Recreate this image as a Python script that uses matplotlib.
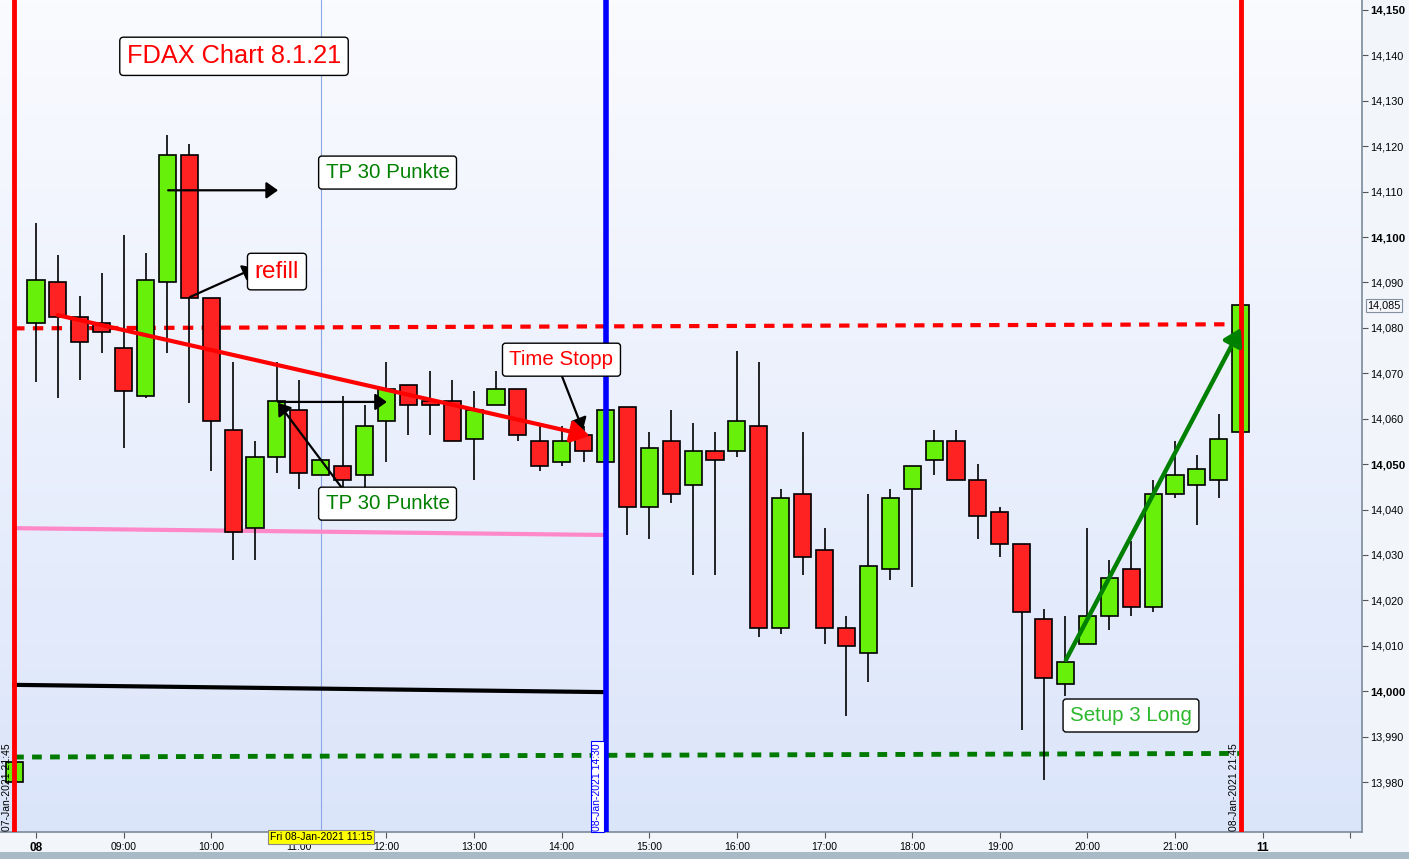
import numpy as np
import matplotlib
matplotlib.use("Agg")
import matplotlib.pyplot as plt
from matplotlib.colors import LinearSegmentedColormap

plt.rcParams['font.family'] = ['Liberation Sans', 'DejaVu Sans']

# 15 min bars, index 0 = 08-Jan-2021 08:00, index -1 = 07-Jan-2021 21:45
opens = [13980, 14081, 14090, 14082.5, 14081, 14075.5, 14065, 14090, 14118, 14086.5,
         14057.5, 14036, 14051.5, 14062, 14047.5, 14049.5, 14047.5, 14059.5, 14067.5, 14064,
         14064, 14055.5, 14063, 14066.5, 14055, 14050.5, 14056.5, 14050.5, 14062.5, 14040.5,
         14055, 14045.5, 14053, 14053, 14058.5, 14014, 14043.5, 14031, 14014, 14008.5,
         14027, 14044.5, 14051, 14055, 14046.5, 14039.5, 14032.5, 14016, 14001.5, 14010.5,
         14016.5, 14027, 14018.5, 14043.5, 14045.5, 14046.5, 14057]
highs = [13985, 14103, 14096, 14087, 14092, 14100.5, 14096.5, 14122.5, 14120.5, 14086.5,
         14072.5, 14055, 14072.5, 14068.5, 14051, 14065, 14063, 14072.5, 14067.5, 14070.5,
         14068.5, 14066, 14070.5, 14066.5, 14058.5, 14058.5, 14058.5, 14062, 14062.5, 14057,
         14062, 14059, 14057, 14075, 14072.5, 14044.5, 14057, 14036, 14016.5, 14043.5,
         14044.5, 14049.5, 14057.5, 14057.5, 14050, 14040.5, 14032.5, 14018, 14016.5, 14036,
         14029, 14033, 14046.5, 14055, 14052, 14061, 14085]
lows = [13979.5, 14068, 14064.5, 14068.5, 14074.5, 14053.5, 14064.5, 14074.5, 14063.5, 14048.5,
        14029, 14029, 14048, 14044.5, 14047.5, 14045, 14043, 14050.5, 14056.5, 14056.5,
        14055, 14046.5, 14063, 14055, 14048.5, 14049.5, 14050.5, 14050.5, 14034.5, 14033.5,
        14041.5, 14025.5, 14025.5, 14051.5, 14012, 14012.5, 14025.5, 14010.5, 13994.5, 14002,
        14024.5, 14023, 14047.5, 14046.5, 14033.5, 14029.5, 13991.5, 13980.5, 13999, 14010.5,
        14013.5, 14016.5, 14017.5, 14042.5, 14036.5, 14042.5, 14057]
closes = [13984.5, 14090.5, 14082.5, 14077, 14079, 14066, 14090.5, 14118, 14086.5, 14059.5,
          14035, 14051.5, 14064, 14048, 14051, 14046.5, 14058.5, 14066.5, 14063, 14063,
          14055, 14062, 14066.5, 14056.5, 14049.5, 14055, 14053, 14062, 14040.5, 14053.5,
          14043.5, 14053, 14051, 14059.5, 14014, 14042.5, 14029.5, 14014, 14010, 14027.5,
          14042.5, 14049.5, 14055, 14046.5, 14038.5, 14032.5, 14017.5, 14003, 14006.5, 14016.5,
          14025, 14018.5, 14043.5, 14047.5, 14049, 14055.5, 14085]
first_index = -1

tick_pos = [0, 4, 8, 12, 16, 20, 24, 28, 32, 36, 40, 44, 48, 52, 56]
tick_labels = ["08", "09:00", "10:00", "11:00", "12:00", "13:00", "14:00", "15:00",
               "16:00", "17:00", "18:00", "19:00", "20:00", "21:00", "11"]
price_ticks = list(range(13980, 14151, 10))

x = np.arange(first_index, first_index + len(opens))
o = np.array(opens); h = np.array(highs); l = np.array(lows); c = np.array(closes)
up = c >= o

fig = plt.figure(figsize=(14.09, 8.59), dpi=100, facecolor='#f2f5fa')
ax = fig.add_axes([0, 27 / 859, 1362 / 1409, 832 / 859])
xmin, xmax = -36 / 21.904, (1362 - 36) / 21.904
ymin, ymax = 13969.0, 14152.2
ax.set_xlim(xmin, xmax)
ax.set_ylim(ymin, ymax)

# background gradient
grad = np.linspace(0, 1, 256).reshape(-1, 1)
bg = LinearSegmentedColormap.from_list('bg', ['#dbe5fa', '#fafbff'])
ax.imshow(grad, extent=[xmin, xmax, ymin, ymax], origin='lower', aspect='auto',
          cmap=bg, zorder=0)

# crosshair line
ax.axvline(13, color='#8aa8e8', lw=0.8, zorder=1)

# horizontal lines
ax.plot([-1, 55], [14079.9, 14080.8], color='#ff0000', lw=3, ls=(0, (2.5, 2)), zorder=2)
ax.plot([-1, 55], [13985.5, 13986.3], color='#007a00', lw=3.5, ls=(0, (2, 1.7)), zorder=2)
ax.plot([-1, 26], [14035.9, 14034.4], color='#ff88c8', lw=3, zorder=2)
ax.plot([-1, 26], [14001.4, 13999.8], color='black', lw=3, zorder=2)

# candles
ax.vlines(x, l, h, color='black', lw=1.2, zorder=3)
ax.bar(x[up], (c - o)[up], bottom=o[up], width=0.78, color='#66f00a',
       edgecolor='black', lw=1.2, zorder=4)
ax.bar(x[~up], (o - c)[~up], bottom=c[~up], width=0.78, color='#ff2222',
       edgecolor='black', lw=1.2, zorder=4)

# vertical markers
ax.axvline(-1, color='#ff0000', lw=3.5, zorder=5)
ax.axvline(55, color='#ff0000', lw=3.5, zorder=5)
ax.axvline(26, color='#0000ff', lw=4, zorder=5)

# arrows
def arrow(x0, y0, x1, y1, color='black', lw=1.6, hw=0.5, hl=0.7):
    ax.annotate('', xy=(x1, y1), xytext=(x0, y0), zorder=6,
                arrowprops=dict(arrowstyle='-|>,head_width=%s,head_length=%s' % (hw, hl),
                                color=color, lw=lw, shrinkA=0, shrinkB=0))

arrow(6.03, 14110.3, 11.05, 14110.3)
arrow(7.03, 14086.8, 9.99, 14093.2)
arrow(11.05, 14063.7, 16.02, 14063.7)
arrow(14.1, 14043.9, 11.05, 14063.5)
arrow(24.01, 14069.4, 24.97, 14057.5)
arrow(1.0, 14082.8, 25.29, 14056.2, color='#ff0000', lw=3, hw=0.65, hl=1.1)
arrow(47.02, 14006.9, 55.01, 14080.0, color='#008000', lw=3.2, hw=0.6, hl=1.0)

# text boxes
box = dict(boxstyle='round,pad=0.34,rounding_size=0.15', fc='white', ec='black', lw=1)
ax.text(9.04, 14139.8, 'FDAX Chart 8.1.21', color='#ff0000', fontsize=18.3,
        ha='center', va='center', bbox=dict(box, boxstyle='round,pad=0.28,rounding_size=0.15'),
        zorder=7)
ax.text(16.05, 14114.2, 'TP 30 Punkte', color='#008000', fontsize=14.8,
        ha='center', va='center', bbox=box, zorder=7)
ax.text(11.0, 14092.4, 'refill', color='#ff0000', fontsize=17.5,
        ha='center', va='center', bbox=dict(box, boxstyle='round,pad=0.3,rounding_size=0.15'),
        zorder=7)
ax.text(16.05, 14041.3, 'TP 30 Punkte', color='#008000', fontsize=14.8,
        ha='center', va='center', bbox=box, zorder=7)
ax.text(23.99, 14073.0, 'Time Stopp', color='#ff0000', fontsize=14.8,
        ha='center', va='center', bbox=box, zorder=7)
ax.text(49.99, 13994.65, 'Setup 3 Long', color='#2cb82c', fontsize=14.8,
        ha='center', va='center', bbox=box, zorder=7)

# vertical date labels
ax.text(-1.32, ymin + 0.3, '07-Jan-2021 21:45', rotation=90, fontsize=7.5,
        ha='center', va='bottom', zorder=7)
ax.text(25.62, ymin + 0.3, '08-Jan-2021 14:30', rotation=90, fontsize=7.5, color='#0000ff',
        ha='center', va='bottom', zorder=7,
        bbox=dict(boxstyle='square,pad=0.15', fc='white', ec='#0000ff', lw=0.8))
ax.text(54.68, ymin + 0.3, '08-Jan-2021 21:45', rotation=90, fontsize=7.5,
        ha='center', va='bottom', zorder=7)

# axes styling
for s in ['top', 'left']:
    ax.spines[s].set_visible(False)
for s in ['right', 'bottom']:
    ax.spines[s].set_color('#7a8a9a')
    ax.spines[s].set_linewidth(1.2)

ax.yaxis.tick_right()
ax.set_yticks(price_ticks)
ax.set_yticklabels(['{:,}'.format(p) for p in price_ticks], fontsize=7.8)
for lab, p in zip(ax.get_yticklabels(), price_ticks):
    if p % 50 == 0:
        lab.set_fontweight('bold')
        lab.set_fontsize(8.2)
ax.tick_params(axis='y', length=4, width=0.8, color='#555555', pad=2)

ax.set_xticks(tick_pos + [60])
ax.set_xticklabels(tick_labels + [''], fontsize=7.5)
for lab, t in zip(ax.get_xticklabels(), tick_labels):
    if len(t) == 2:
        lab.set_fontweight('bold')
        lab.set_fontsize(8.5)
ax.tick_params(axis='x', length=4, width=0.8, color='#555555', pad=3)

# current price label
ax.text(1.004, 14085, '14,085', transform=ax.get_yaxis_transform(), fontsize=7.8,
        ha='left', va='center',
        bbox=dict(boxstyle='square,pad=0.15', fc='#f4f6fa', ec='#8090a0', lw=0.8))

# crosshair time label
ax.text(13, ymin, 'Fri 08-Jan-2021 11:15', fontsize=7.5, ha='center', va='top', zorder=8,
        bbox=dict(boxstyle='square,pad=0.2', fc='#ffff00', ec='#888888', lw=0.8),
        clip_on=False)

# scrollbar strip at the bottom
fig.patches.append(plt.Rectangle((0, 0), 1, 7 / 859, transform=fig.transFigure,
                                 fc='#a8bac6', ec='none'))

fig.savefig('out.png', dpi=100, facecolor=fig.get_facecolor())
